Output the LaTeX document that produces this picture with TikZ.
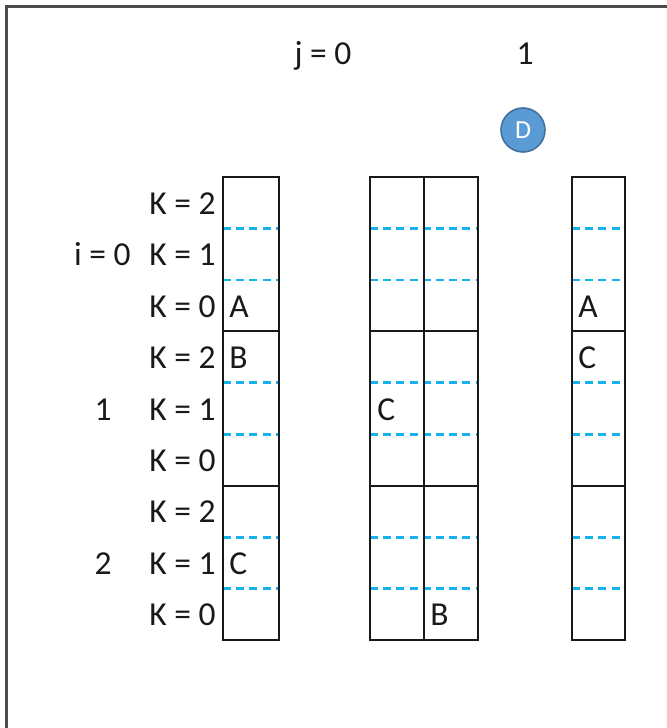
\documentclass[tikz,border=0pt]{standalone}
\usepackage{fontspec}
\setmainfont{Carlito}
\definecolor{dashblue}{RGB}{20,178,240}
\definecolor{dotfill}{RGB}{91,155,213}
\definecolor{dotedge}{RGB}{65,113,156}
\definecolor{ink}{RGB}{25,25,25}
\begin{document}
\begin{tikzpicture}[x=0.5pt,y=-0.5pt,
  lbl/.style={font=\fontsize{16.75}{20}\selectfont, inner sep=0pt, text=ink},
  cellbox/.style={draw=ink, line width=1pt},
  subline/.style={draw=dashblue, line width=1.4pt, dash pattern=on 4pt off 2.6pt},
  frame/.style={draw=black!70, line width=1.5pt},
]
\useasboundingbox (0,0) rectangle (667,728);
% outer frame (top and left edges)
\draw[frame] (6,728) -- (6,6) -- (667,6);

% sub-row separators (dashed)
\foreach \y in {228.4,279.9,382.8,434.2,537.1,588.6}{
  \draw[subline] (223,\y) -- (279,\y);
  \draw[subline] (370,\y) -- (478,\y);
  \draw[subline] (572,\y) -- (625,\y);
}
% columns with block separators
\foreach \xa/\xb in {223/279,370/478,572/625}{
  \draw[cellbox] (\xa,177) rectangle (\xb,640);
  \draw[cellbox] (\xa,331.3) -- (\xb,331.3);
  \draw[cellbox] (\xa,485.7) -- (\xb,485.7);
}
\draw[cellbox] (424,177) -- (424,640);

% column headers
\node[lbl, anchor=base] (j0) at (323,64) {j = 0};
\node[lbl, anchor=base] (j1) at (525,64) {1};

% marker D
\node[circle, draw=dotedge, fill=dotfill, line width=0.8pt, minimum size=22pt, inner sep=0pt,
      text=white, font=\fontsize{13}{15}\selectfont] (D) at (523,130) {D};

% row labels
\node[lbl, anchor=base east] (k02) at (216,214.2) {K = 2};
\node[lbl, anchor=base east] (k01) at (216,265.6) {K = 1};
\node[lbl, anchor=base east] (k00) at (216,317) {K = 0};
\node[lbl, anchor=base east] (k12) at (216,368.5) {K = 2};
\node[lbl, anchor=base east] (k11) at (216,420) {K = 1};
\node[lbl, anchor=base east] (k10) at (216,471.4) {K = 0};
\node[lbl, anchor=base east] (k22) at (216,522.9) {K = 2};
\node[lbl, anchor=base east] (k21) at (216,574.3) {K = 1};
\node[lbl, anchor=base east] (k20) at (216,625.8) {K = 0};

\node[lbl, anchor=base east] (i0) at (131,265.6) {i = 0};
\node[lbl, anchor=base] (i1) at (103,420) {1};
\node[lbl, anchor=base] (i2) at (103,574.3) {2};

% cell entries
\node[lbl, anchor=base west] (a1) at (229,317) {A};
\node[lbl, anchor=base west] (b1) at (229,368.5) {B};
\node[lbl, anchor=base west] (c1) at (229,574.3) {C};
\node[lbl, anchor=base west] (c2) at (377,420) {C};
\node[lbl, anchor=base west] (b2) at (430,625.8) {B};
\node[lbl, anchor=base west] (a3) at (578,317) {A};
\node[lbl, anchor=base west] (c3) at (578,368.5) {C};
\end{tikzpicture}
\end{document}
